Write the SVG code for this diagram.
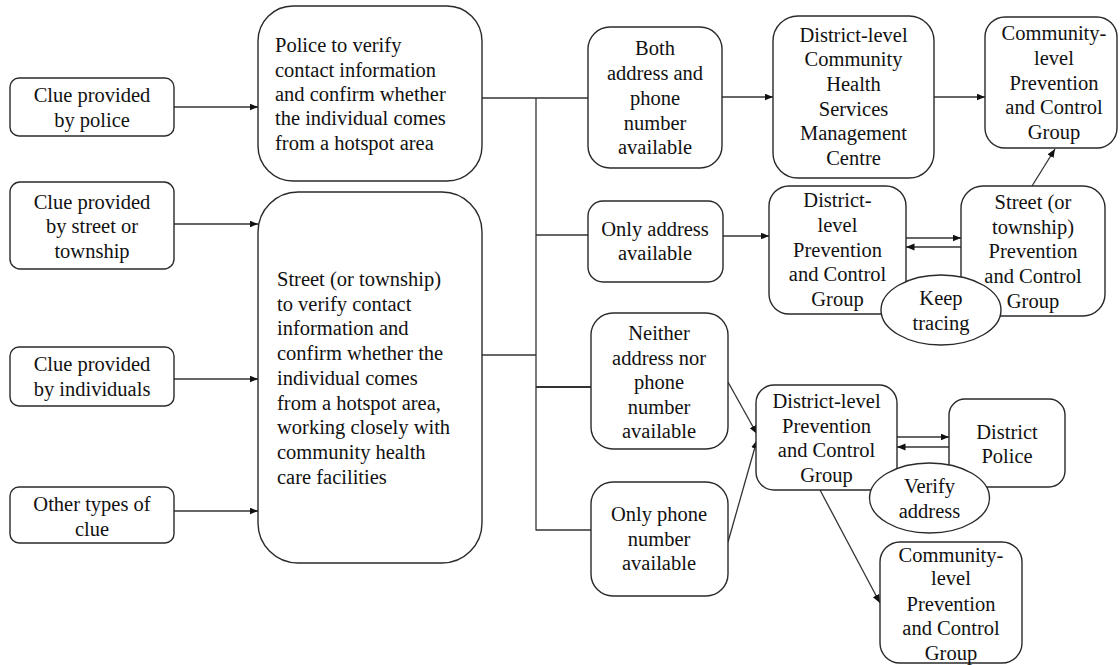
<svg xmlns="http://www.w3.org/2000/svg" width="1120" height="665" viewBox="0 0 1120 665">
<style>
.box{fill:#fff;stroke:#2a2a2a;stroke-width:1.4}
.ell{fill:#fff;stroke:#2a2a2a;stroke-width:1.4}
.ln{fill:none;stroke:#333;stroke-width:1.3}
.ar{fill:none;stroke:#333;stroke-width:1.3;marker-end:url(#ah)}
text{font-family:'Liberation Serif','Times New Roman',Times,'DejaVu Serif',serif;font-size:20.5px;fill:#111}
.c{text-anchor:middle}
</style>
<defs>
<marker id="ah" markerUnits="userSpaceOnUse" markerWidth="9" markerHeight="8" refX="8.5" refY="3.5" orient="auto">
<path d="M0,0 L8.5,3.5 L0,7 z" fill="#111"/>
</marker>
</defs>
<rect width="1120" height="665" fill="#fff"/>
<g id="connectors">
<line class="ar" x1="174" y1="107" x2="258" y2="107"/>
<line class="ar" x1="174" y1="224" x2="258" y2="224"/>
<line class="ar" x1="174" y1="379" x2="258" y2="379"/>
<line class="ar" x1="174" y1="511" x2="258" y2="511"/>
<line class="ln" x1="482" y1="98" x2="588" y2="98"/>
<line class="ln" x1="536" y1="98" x2="536" y2="530.5"/>
<line class="ln" x1="482" y1="355" x2="536" y2="355"/>
<line class="ln" x1="536" y1="235" x2="588" y2="235"/>
<line class="ln" x1="536" y1="387" x2="591" y2="387" style="stroke-width:2"/>
<line class="ln" x1="536" y1="530" x2="591" y2="530"/>
<line class="ar" x1="722" y1="97" x2="773" y2="97"/>
<line class="ar" x1="934" y1="97" x2="985" y2="97"/>
<line class="ar" x1="723" y1="236" x2="769" y2="236"/>
<line class="ar" x1="906" y1="238" x2="961" y2="238"/>
<line class="ar" x1="961" y1="247" x2="906" y2="247"/>
<line class="ar" x1="1032" y1="186" x2="1055" y2="149"/>
<line class="ar" x1="728" y1="382" x2="757" y2="434"/>
<line class="ar" x1="728" y1="542" x2="757" y2="440"/>
<line class="ar" x1="897" y1="437" x2="949" y2="437"/>
<line class="ar" x1="949" y1="447" x2="897" y2="447"/>
<line class="ar" x1="820" y1="490" x2="880" y2="603"/>
</g>
<g font-family="Liberation Serif, Times New Roman, serif">
<g id="clue-police">
<rect class="box" x="10" y="78" width="164" height="58" rx="9"/>
<text class="c" x="92" y="101.5">Clue provided</text>
<text class="c" x="92" y="126.5">by police</text>
</g>
<g id="clue-street">
<rect class="box" x="10" y="182" width="164" height="87" rx="10"/>
<text class="c" x="92" y="208.5">Clue provided</text>
<text class="c" x="92" y="232.5">by street or</text>
<text class="c" x="92" y="257.5">township</text>
</g>
<g id="clue-individuals">
<rect class="box" x="10" y="347" width="164" height="59" rx="9"/>
<text class="c" x="92" y="370.5">Clue provided</text>
<text class="c" x="92" y="395.5">by individuals</text>
</g>
<g id="clue-other">
<rect class="box" x="10" y="487" width="164" height="56" rx="9"/>
<text class="c" x="92" y="510.5">Other types of</text>
<text class="c" x="92" y="535.5">clue</text>
</g>
<g id="police-verify">
<rect class="box" x="258" y="6" width="224" height="175" rx="35"/>
<text x="275" y="51.5">Police to verify</text>
<text x="275" y="76.5">contact information</text>
<text x="275" y="100.5">and confirm whether</text>
<text x="275" y="124.5">the individual comes</text>
<text x="275" y="149.5">from a hotspot area</text>
</g>
<g id="street-verify">
<rect class="box" x="258" y="192" width="224" height="371" rx="40"/>
<text x="277" y="286">Street (or township)</text>
<text x="277" y="310.7">to verify contact</text>
<text x="277" y="335.4">information and</text>
<text x="277" y="360.1">confirm whether the</text>
<text x="277" y="384.8">individual comes</text>
<text x="277" y="409.5">from a hotspot area,</text>
<text x="277" y="434.2">working closely with</text>
<text x="277" y="458.9">community health</text>
<text x="277" y="483.6">care facilities</text>
</g>
<g id="both-available">
<rect class="box" x="588" y="27" width="134" height="141" rx="22"/>
<text class="c" x="655" y="54.5">Both</text>
<text class="c" x="655" y="79.5">address and</text>
<text class="c" x="655" y="104.5">phone</text>
<text class="c" x="655" y="129.5">number</text>
<text class="c" x="655" y="153.5">available</text>
</g>
<g id="district-chsmc">
<rect class="box" x="773" y="16" width="161" height="162" rx="25"/>
<text class="c" x="853.5" y="41.5">District-level</text>
<text class="c" x="853.5" y="66.2">Community</text>
<text class="c" x="853.5" y="90.9">Health</text>
<text class="c" x="853.5" y="115.6">Services</text>
<text class="c" x="853.5" y="140.3">Management</text>
<text class="c" x="853.5" y="165">Centre</text>
</g>
<g id="community-top">
<rect class="box" x="985" y="17" width="132" height="131" rx="20"/>
<text class="c" x="1054" y="39.5">Community-</text>
<text class="c" x="1054" y="64.5">level</text>
<text class="c" x="1054" y="89.5">Prevention</text>
<text class="c" x="1054" y="114">and Control</text>
<text class="c" x="1054" y="139">Group</text>
</g>
<g id="only-address">
<rect class="box" x="588" y="201" width="135" height="81" rx="15"/>
<text class="c" x="655" y="235.5">Only address</text>
<text class="c" x="655" y="259.5">available</text>
</g>
<g id="district-pcg-mid">
<rect class="box" x="769" y="186" width="137" height="128" rx="20"/>
<text class="c" x="837.5" y="206.5">District-</text>
<text class="c" x="837.5" y="231.5">level</text>
<text class="c" x="837.5" y="256.5">Prevention</text>
<text class="c" x="837.5" y="280.5">and Control</text>
<text class="c" x="837.5" y="306">Group</text>
</g>
<g id="street-pcg">
<rect class="box" x="961" y="186" width="144" height="130" rx="22"/>
<text class="c" x="1033" y="208.5">Street (or</text>
<text class="c" x="1033" y="233.5">township)</text>
<text class="c" x="1033" y="257.5">Prevention</text>
<text class="c" x="1033" y="282.5">and Control</text>
<text class="c" x="1033" y="307.5">Group</text>
</g>
<g id="keep-tracing">
<ellipse class="ell" cx="941" cy="310" rx="60" ry="35"/>
<text class="c" x="941" y="304.5">Keep</text>
<text class="c" x="941" y="329.5">tracing</text>
</g>
<g id="neither">
<rect class="box" x="591" y="313" width="137" height="136" rx="22"/>
<text class="c" x="659" y="339.5">Neither</text>
<text class="c" x="659" y="364.5">address nor</text>
<text class="c" x="659" y="388.5">phone</text>
<text class="c" x="659" y="413.5">number</text>
<text class="c" x="659" y="437.5">available</text>
</g>
<g id="only-phone">
<rect class="box" x="591" y="482" width="137" height="114" rx="22"/>
<text class="c" x="659" y="520.5">Only phone</text>
<text class="c" x="659" y="545.5">number</text>
<text class="c" x="659" y="569.5">available</text>
</g>
<g id="district-pcg-bottom">
<rect class="box" x="756" y="385" width="141" height="105" rx="18"/>
<text class="c" x="826.5" y="407.5">District-level</text>
<text class="c" x="826.5" y="432.5">Prevention</text>
<text class="c" x="826.5" y="456.5">and Control</text>
<text class="c" x="826.5" y="481.5">Group</text>
</g>
<g id="district-police">
<rect class="box" x="949" y="399" width="116" height="88" rx="16"/>
<text class="c" x="1007" y="438.5">District</text>
<text class="c" x="1007" y="462.5">Police</text>
</g>
<g id="verify-address">
<ellipse class="ell" cx="929.5" cy="498" rx="60" ry="35"/>
<text class="c" x="929.5" y="492.5">Verify</text>
<text class="c" x="929.5" y="517.5">address</text>
</g>
<g id="community-bottom">
<rect class="box" x="880" y="542" width="142" height="121" rx="20"/>
<text class="c" x="951" y="561.5">Community-</text>
<text class="c" x="951" y="584.5">level</text>
<text class="c" x="951" y="610.5">Prevention</text>
<text class="c" x="951" y="634.5">and Control</text>
<text class="c" x="951" y="659.5">Group</text>
</g>
</g>
</svg>
